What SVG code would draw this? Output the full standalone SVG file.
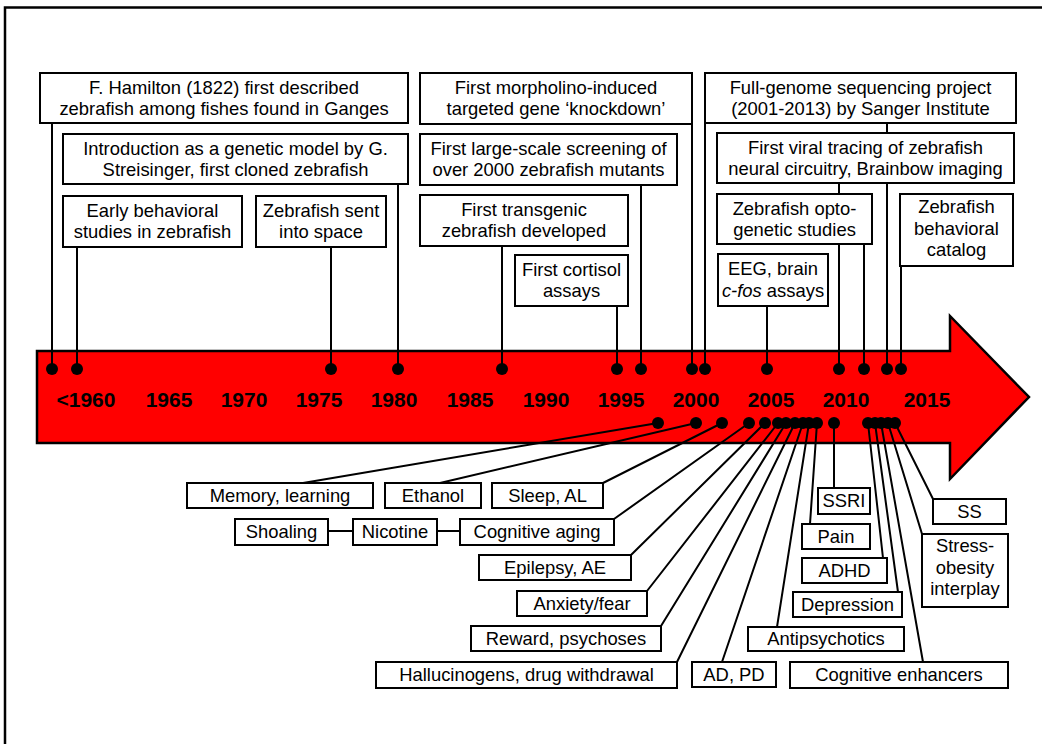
<svg xmlns="http://www.w3.org/2000/svg" width="1042" height="744" viewBox="0 0 1042 744">
<defs>
<style>
.box{fill:#fff;stroke:#000;stroke-width:2}
.t{font-family:"Liberation Sans",Arial,sans-serif;font-size:18.4px;fill:#000;text-anchor:middle}
.yr{font-family:"Liberation Sans",Arial,sans-serif;font-size:21px;font-weight:bold;fill:#000;text-anchor:middle}
.ln{stroke:#000;stroke-width:2;fill:none}
.dot{fill:#000}
</style>
</defs>
<rect width="1042" height="744" fill="#fff"/>
<path d="M5,744 V7.5 H1042" fill="none" stroke="#000" stroke-width="2.5"/>
<g id="timeline-arrow">
<path d="M37,351 H950 V316 L1029,397 L950,479 V443 H37 Z" fill="#ff0000" stroke="#000" stroke-width="2.5" stroke-linejoin="miter"/>
<text class="yr" x="86" y="407">&lt;1960</text>
<text class="yr" x="169" y="407">1965</text>
<text class="yr" x="244" y="407">1970</text>
<text class="yr" x="319" y="407">1975</text>
<text class="yr" x="394" y="407">1980</text>
<text class="yr" x="470" y="407">1985</text>
<text class="yr" x="546" y="407">1990</text>
<text class="yr" x="621" y="407">1995</text>
<text class="yr" x="696" y="407">2000</text>
<text class="yr" x="771" y="407">2005</text>
<text class="yr" x="846" y="407">2010</text>
<text class="yr" x="927" y="407">2015</text>
</g>
<g id="connectors">
<path class="ln" d="M52,123V369 M77,247V369 M331,247V369 M398,184V369 M502,246V369 M617,306V369 M641,185V369 M692,124V369 M705,123V369 M767,306V369 M839,183V369 M864,244V369 M887,123V369 M901,266V369"/>
<path class="ln" d="M658,423L303,483 M696,423L440,483 M722,423L603,483 M749,423L614,519 M765,423L631,555 M778,423L647,591 M786,423L661,626 M795,423L677,662 M803,423L722,662 M809,423L777,627 M817,423L810,524 M834,423L834,488 M868,423L883,558 M875,423L898,592 M881,423L923,662 M888,423L922,534 M895,423L933,499"/>
<path class="ln" d="M328,531H353 M437,531H460"/>
<g class="dot">
<circle cx="52" cy="369" r="6"/><circle cx="77" cy="369" r="6"/><circle cx="331" cy="369" r="6"/><circle cx="398" cy="369" r="6"/><circle cx="502" cy="369" r="6"/><circle cx="617" cy="369" r="6"/><circle cx="641" cy="369" r="6"/><circle cx="692" cy="369" r="6"/><circle cx="705" cy="369" r="6"/><circle cx="767" cy="369" r="6"/><circle cx="839" cy="369" r="6"/><circle cx="864" cy="369" r="6"/><circle cx="887" cy="369" r="6"/><circle cx="901" cy="369" r="6"/>
<circle cx="658" cy="423" r="6"/><circle cx="696" cy="423" r="6"/><circle cx="722" cy="423" r="6"/><circle cx="749" cy="423" r="6"/><circle cx="765" cy="423" r="6"/><circle cx="778" cy="423" r="6"/><circle cx="786" cy="423" r="6"/><circle cx="795" cy="423" r="6"/><circle cx="803" cy="423" r="6"/><circle cx="809" cy="423" r="6"/><circle cx="817" cy="423" r="6"/><circle cx="834" cy="423" r="6"/><circle cx="868" cy="423" r="6"/><circle cx="875" cy="423" r="6"/><circle cx="881" cy="423" r="6"/><circle cx="888" cy="423" r="6"/><circle cx="895" cy="423" r="6"/>
</g>
</g>
<g id="hamilton"><rect class="box" x="40" y="73" width="368" height="50"/><text class="t" x="224" y="94">F. Hamilton (1822) first described</text><text class="t" x="224" y="115">zebrafish among fishes found in Ganges</text></g>
<g id="introduction"><rect class="box" x="63" y="134" width="345" height="50"/><text class="t" x="235.5" y="155">Introduction as a genetic model by G.</text><text class="t" x="235.5" y="176">Streisinger, first cloned zebrafish</text></g>
<g id="early-behavioral"><rect class="box" x="63" y="196" width="179" height="51"/><text class="t" x="152.5" y="217">Early behavioral</text><text class="t" x="152.5" y="238">studies in zebrafish</text></g>
<g id="space"><rect class="box" x="256" y="196" width="130" height="51"/><text class="t" x="321" y="217">Zebrafish sent</text><text class="t" x="321" y="238">into space</text></g>
<g id="morpholino"><rect class="box" x="420" y="73" width="272" height="51"/><text class="t" x="556" y="94">First morpholino-induced</text><text class="t" x="556" y="115">targeted gene ‘knockdown’</text></g>
<g id="large-scale"><rect class="box" x="420" y="134" width="257" height="51"/><text class="t" x="548.5" y="155">First large-scale screening of</text><text class="t" x="548.5" y="176">over 2000 zebrafish mutants</text></g>
<g id="transgenic"><rect class="box" x="420" y="195" width="208" height="51"/><text class="t" x="524" y="216">First transgenic</text><text class="t" x="524" y="237">zebrafish developed</text></g>
<g id="cortisol"><rect class="box" x="515" y="255" width="113" height="51"/><text class="t" x="571.5" y="276">First cortisol</text><text class="t" x="571.5" y="297">assays</text></g>
<g id="genome"><rect class="box" x="705" y="73" width="311" height="50"/><text class="t" x="860.5" y="94">Full-genome sequencing project</text><text class="t" x="860.5" y="115">(2001-2013) by Sanger Institute</text></g>
<g id="viral"><rect class="box" x="717" y="133" width="297" height="50"/><text class="t" x="865.5" y="154">First viral tracing of zebrafish</text><text class="t" x="865.5" y="175">neural circuitry, Brainbow imaging</text></g>
<g id="optogenetic"><rect class="box" x="717" y="194" width="155" height="50"/><text class="t" x="794.5" y="215">Zebrafish opto-</text><text class="t" x="794.5" y="236">genetic studies</text></g>
<g id="eeg"><rect class="box" x="718" y="254" width="110" height="52"/><text class="t" x="773" y="275">EEG, brain</text><text class="t" x="773" y="297"><tspan font-style="italic">c-fos</tspan> assays</text></g>
<g id="catalog"><rect class="box" x="900" y="194" width="113" height="72"/><text class="t" x="956.5" y="213">Zebrafish</text><text class="t" x="956.5" y="235">behavioral</text><text class="t" x="956.5" y="256">catalog</text></g>
<g id="memory"><rect class="box" x="187" y="483" width="186" height="25"/><text class="t" x="280" y="502">Memory, learning</text></g>
<g id="ethanol"><rect class="box" x="385" y="483" width="96" height="25"/><text class="t" x="433" y="502">Ethanol</text></g>
<g id="sleep"><rect class="box" x="492" y="483" width="111" height="25"/><text class="t" x="547.5" y="502">Sleep, AL</text></g>
<g id="shoaling"><rect class="box" x="235" y="519" width="93" height="26"/><text class="t" x="281.5" y="538">Shoaling</text></g>
<g id="nicotine"><rect class="box" x="353" y="519" width="84" height="26"/><text class="t" x="395" y="538">Nicotine</text></g>
<g id="cognitive-aging"><rect class="box" x="460" y="519" width="154" height="26"/><text class="t" x="537" y="538">Cognitive aging</text></g>
<g id="epilepsy"><rect class="box" x="479" y="555" width="152" height="25"/><text class="t" x="555" y="574">Epilepsy, AE</text></g>
<g id="anxiety"><rect class="box" x="517" y="591" width="130" height="25"/><text class="t" x="582" y="610">Anxiety/fear</text></g>
<g id="reward"><rect class="box" x="471" y="626" width="190" height="25"/><text class="t" x="566" y="645">Reward, psychoses</text></g>
<g id="hallucinogens"><rect class="box" x="376" y="662" width="301" height="26"/><text class="t" x="526.5" y="681">Hallucinogens, drug withdrawal</text></g>
<g id="adpd"><rect class="box" x="692" y="662" width="84" height="25"/><text class="t" x="734" y="681">AD, PD</text></g>
<g id="antipsychotics"><rect class="box" x="748" y="627" width="156" height="24"/><text class="t" x="826" y="645">Antipsychotics</text></g>
<g id="cognitive-enhancers"><rect class="box" x="790" y="662" width="218" height="26"/><text class="t" x="899" y="681">Cognitive enhancers</text></g>
<g id="ssri"><rect class="box" x="818" y="488" width="52" height="26"/><text class="t" x="844" y="507">SSRI</text></g>
<g id="pain"><rect class="box" x="802" y="524" width="68" height="25"/><text class="t" x="836" y="543">Pain</text></g>
<g id="adhd"><rect class="box" x="802" y="558" width="85" height="25"/><text class="t" x="844.5" y="577">ADHD</text></g>
<g id="depression"><rect class="box" x="793" y="592" width="109" height="25"/><text class="t" x="847.5" y="611">Depression</text></g>
<g id="ss"><rect class="box" x="933" y="499" width="73" height="25"/><text class="t" x="969.5" y="518">SS</text></g>
<g id="stress-obesity"><rect class="box" x="922" y="534" width="86" height="73"/><text class="t" x="965" y="552">Stress-</text><text class="t" x="965" y="574">obesity</text><text class="t" x="965" y="595">interplay</text></g>
</svg>
